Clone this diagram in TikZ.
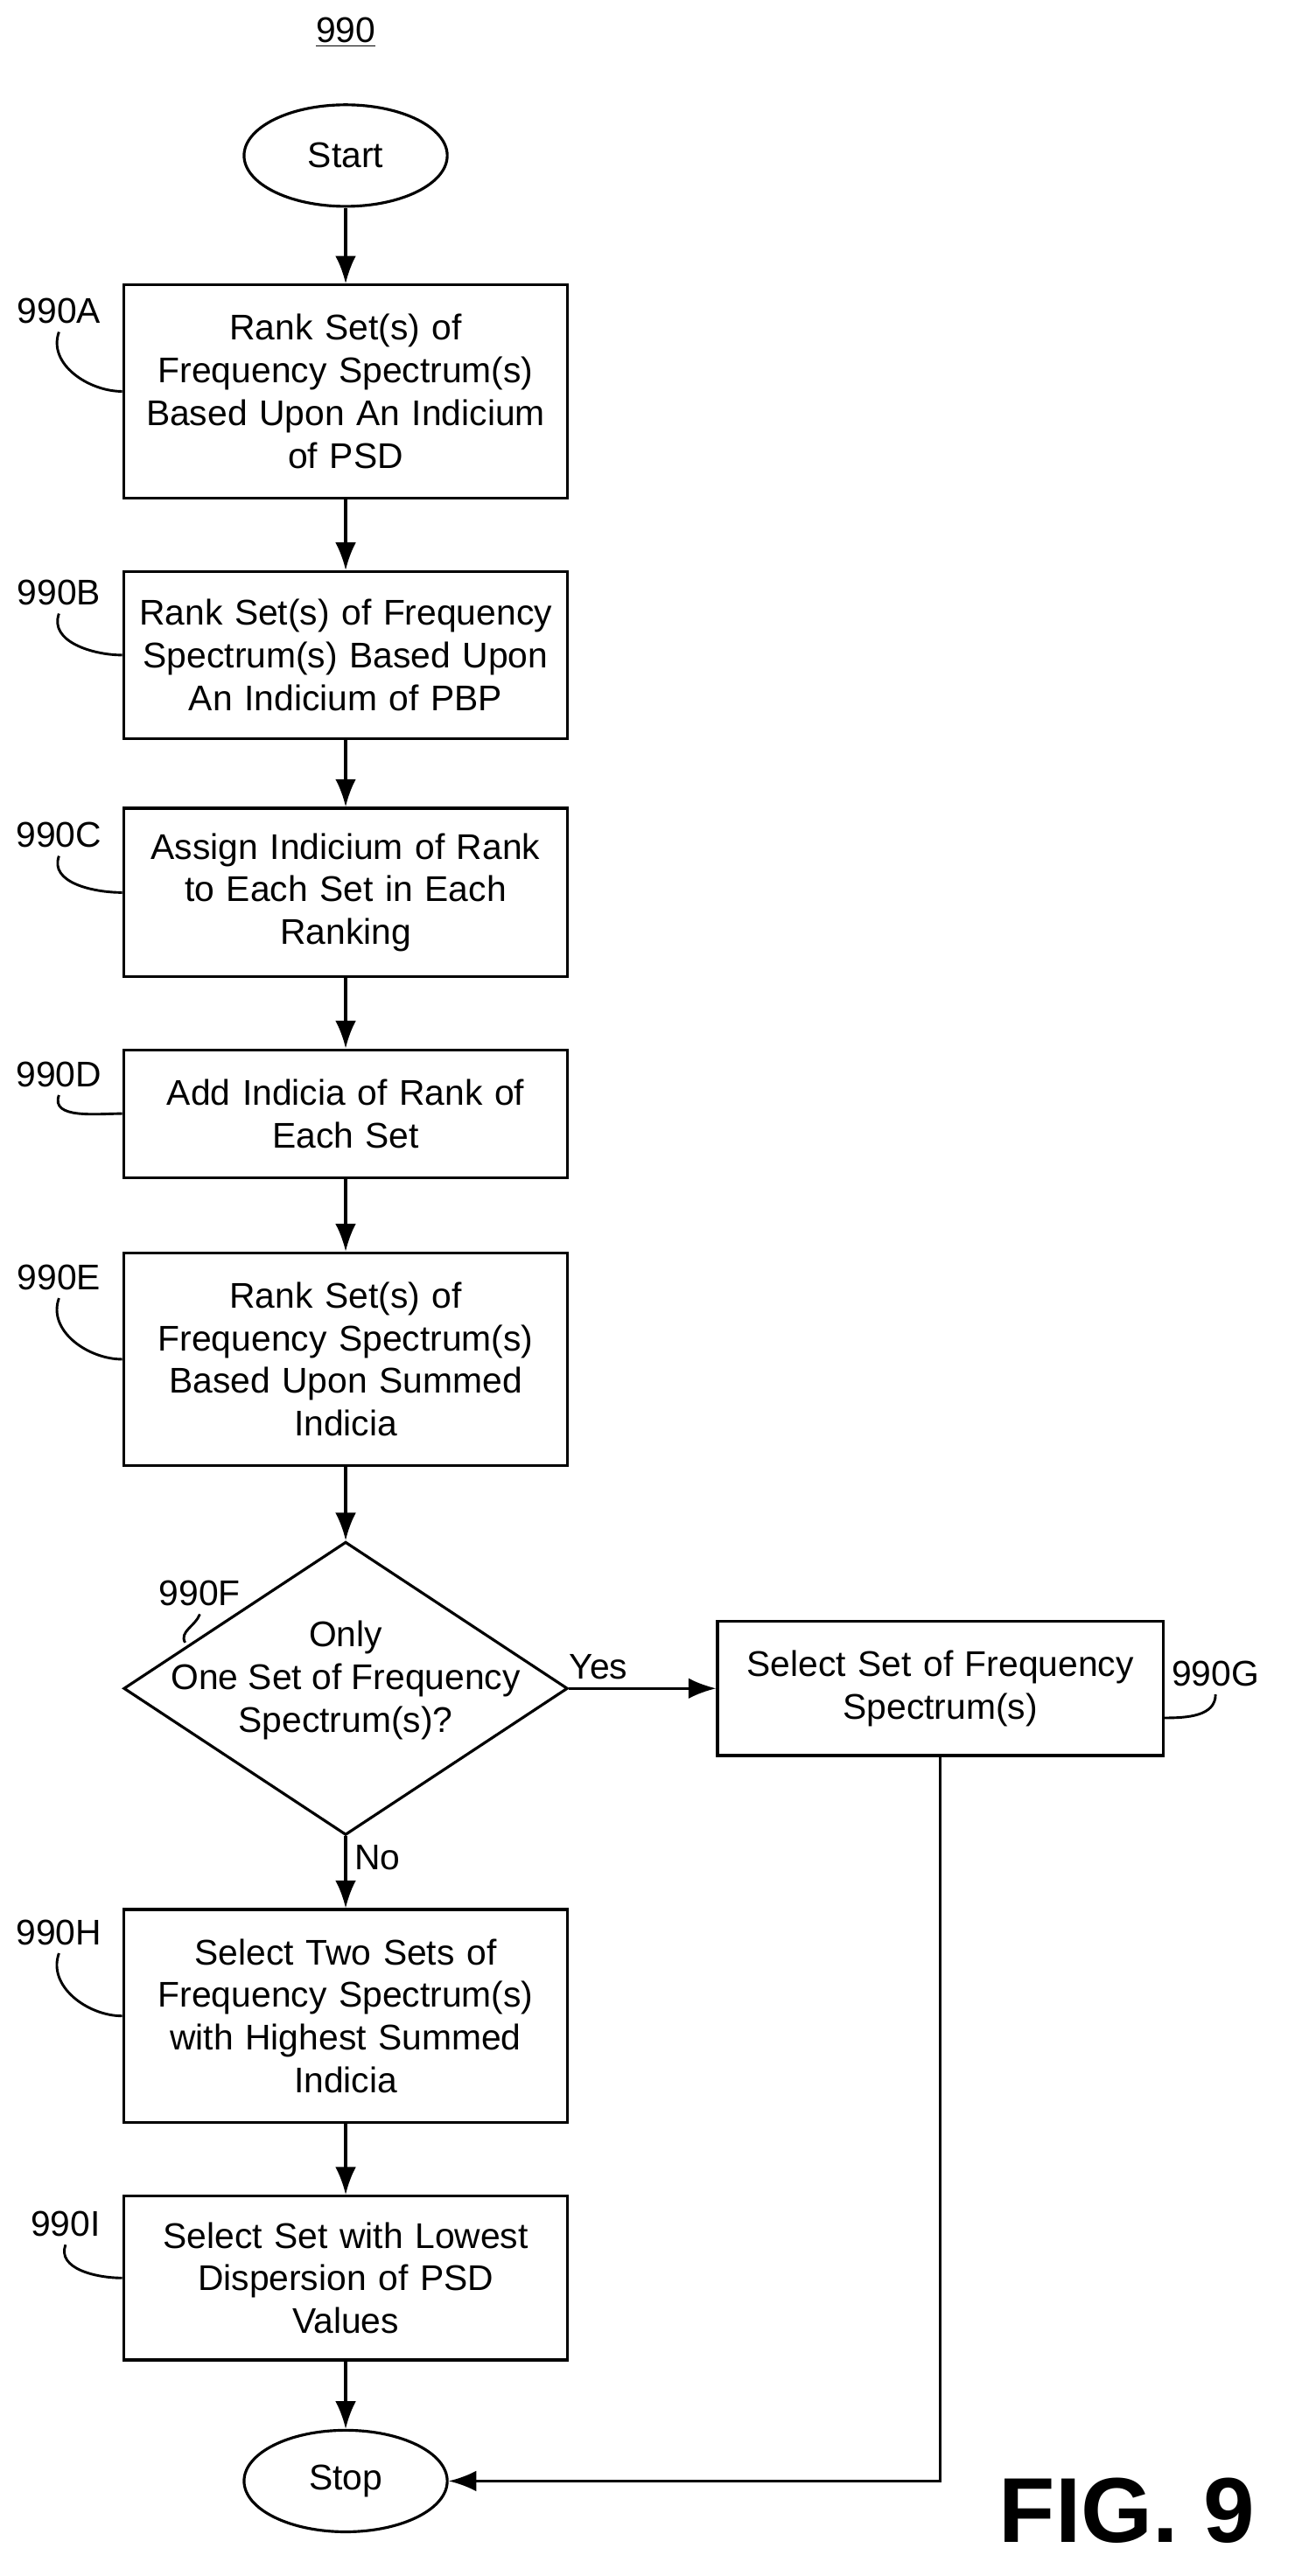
\documentclass[tikz,border=0pt]{standalone}
\usepackage{fontspec}
\setmainfont{Liberation Sans}
\usetikzlibrary{shapes.geometric,arrows.meta}

\tikzset{
  box/.style={draw, line width=1.2pt, align=center, minimum width=6.775cm, text width=6.4cm},
  term/.style={draw, ellipse, line width=1.2pt, minimum width=3.1cm, minimum height=1.55cm},
  lbl/.style={font=\fontsize{15.5}{18.5}\selectfont},
  flow/.style={line width=1.2pt, -{Latex[length=12pt,width=9pt]}},
  lead/.style={line width=1.1pt}
}

\begin{document}
\begin{tikzpicture}[x=0.025cm, y=-0.025cm, font=\fontsize{15.5}{18.5}\selectfont]
\useasboundingbox (0,0) rectangle (790,1573);
% title
\node (title) at (211,20) {\underline{990}};
% terminals
\node[term] (start) at (211,95) {Start};
\node[term] (stop) at (211,1515) {Stop};
% process boxes
\node[box, minimum height=3.25cm] (A) at (211,239) {Rank Set(s) of\\Frequency Spectrum(s)\\Based Upon An Indicium\\of PSD};
\node[box, minimum height=2.55cm] (B) at (211,400) {Rank Set(s) of Frequency\\Spectrum(s) Based Upon\\An Indicium of PBP};
\node[box, minimum height=2.575cm] (C) at (211,545) {Assign Indicium of Rank\\to Each Set in Each\\Ranking};
\node[box, minimum height=1.95cm] (D) at (211,680) {Add Indicia of Rank of\\Each Set};
\node[box, minimum height=3.25cm] (E) at (211,830) {Rank Set(s) of\\Frequency Spectrum(s)\\Based Upon Summed\\Indicia};
% decision
\node[draw, diamond, line width=1.2pt, inner sep=0pt, minimum width=6.775cm, minimum height=4.475cm] (F) at (211,1031) {};
\node[align=center] (Ftext) at (211,1026) {Only\\One Set of Frequency\\Spectrum(s)?};
\node[box, minimum width=6.8cm, minimum height=2.05cm] (G) at (574,1031) {Select Set of Frequency\\Spectrum(s)};
\node[box, minimum height=3.25cm] (H) at (211,1231) {Select Two Sets of\\Frequency Spectrum(s)\\with Highest Summed\\Indicia};
\node[box, minimum height=2.5cm] (I) at (211,1391) {Select Set with Lowest\\Dispersion of PSD\\Values};
% connectors
\draw[flow] (start) -- (A);
\draw[flow] (A) -- (B);
\draw[flow] (B) -- (C);
\draw[flow] (C) -- (D);
\draw[flow] (D) -- (E);
\draw[flow] (E) -- (F);
\draw[flow] (F) -- node[above, pos=0.2] {Yes} (G);
\draw[flow] (F) -- node[right, pos=0.3] {No} (H);
\draw[flow] (H) -- (I);
\draw[flow] (I) -- (stop);
\draw[flow] (G.south) |- (stop.east);
% reference labels
\node (lA) at (36,190) {990A};
\node (lB) at (36,362) {990B};
\node (lC) at (36,510) {990C};
\node (lD) at (36,656) {990D};
\node (lE) at (36,780) {990E};
\node (lF) at (122,973) {990F};
\node (lG) at (742,1022) {990G};
\node (lH) at (36,1180) {990H};
\node (lI) at (40,1358) {990I};
\draw[lead] (lA.south) to[out=250,in=180] (A.west);
\draw[lead] (lB.south) to[out=250,in=180] (B.west);
\draw[lead] (lC.south) to[out=250,in=180] (C.west);
\draw[lead] (lD.south) to[out=250,in=180] (D.west);
\draw[lead] (lE.south) to[out=250,in=180] (E.west);
\draw[lead] (lF.south) to[out=250,in=120] (113,1003);
\draw[lead] (G.east) ++(0,18) to[out=0,in=270] (lG.south);
\draw[lead] (lH.south) to[out=250,in=180] (H.west);
\draw[lead] (lI.south) to[out=250,in=180] (I.west);
% figure number
\node[font=\fontsize{40}{44}\selectfont\bfseries] (fig) at (688,1533) {FIG. 9};
\end{tikzpicture}
\end{document}
